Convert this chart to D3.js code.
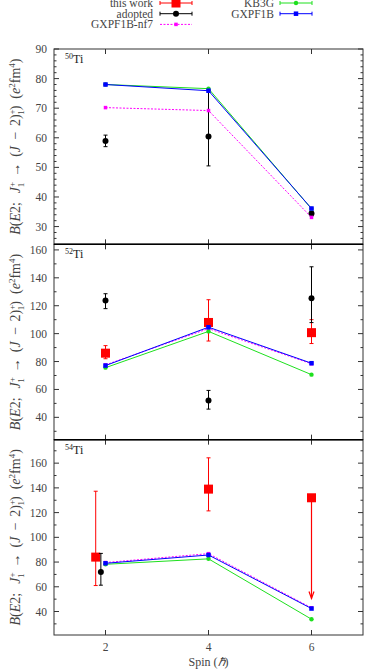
<!DOCTYPE html>
<html>
<head>
<meta charset="utf-8">
<script src="https://cdn.jsdelivr.net/npm/d3@7"></script>
<style>
  body { margin: 0; background: #fff; }
  svg { display: block; font-family: "Liberation Serif", serif; }
</style>
</head>
<body>
<div class="container"></div>
<script>
// values, one entry per panel (50Ti, 52Ti, 54Ti)
const spins = [2, 4, 6];
const nuclei = ["50", "52", "54"];
// [spin, value, low, high]
const thisWork = [
  [],
  [[2, 86, 82, 91.4], [4, 108, 94.7, 124.3], [6, 100.7, 92.9, 110]],
  [[1.81, 84, 61, 137.3], [4, 139, 121.4, 164.3]]
];
// upper limits: [spin, value, arrow end]
const thisWorkLimit = [[], [], [[6, 132, 50.5]]];
const adopted = [
  [[2, 58.9, 57, 60.9], [4, 60.4, 50.5, 76], [6, 34.4, 33.6, 35.2]],
  [[2, 123.8, 117.9, 128.6], [4, 52.1, 45.9, 59.3], [6, 125.4, 107.9, 147.9]],
  [[1.91, 72, 61.3, 87]]
];
const kb3g = [[78, 76.6, 36], [75.6, 101.6, 70.6], [78.2, 82.6, 33.8]];
const gxpf1b = [[78, 75.9, 36.1], [77.1, 104.6, 78.8], [79, 85.7, 42.4]];
const nf7 = [[70.2, 69.2, 33.1], [77.6, 103.6, 78.4], [79.6, 86.8, 43]];

const yDomains = [[24, 90], [24, 164], [21, 179]];
const yTicks = [d3.range(30, 91, 10), d3.range(40, 161, 20), d3.range(40, 161, 20)];
const yMinor = [d3.range(26, 90, 2), d3.range(30, 164, 10), d3.range(30, 179, 10)];

const W = 369, H = 672;
const left = 54, right = 363, top0 = 49, bottom0 = 635;
const ph = (bottom0 - top0) / 3;

const col = { red: "#ff0000", black: "#000", green: "#1ee01e", blue: "#0000ff", mag: "#ff00ff" };

const svg = d3.select(".container").append("svg")
  .attr("width", W).attr("height", H);

const x = d3.scaleLinear().domain([1, 7]).range([left, right]);

function square(g, cx, cy, s, fill) {
  g.append("rect").attr("x", cx - s / 2).attr("y", cy - s / 2)
    .attr("width", s).attr("height", s).attr("fill", fill);
}
function dot(g, cx, cy, r, fill) {
  g.append("circle").attr("cx", cx).attr("cy", cy).attr("r", r).attr("fill", fill);
}
function errBar(g, cx, y1, y2, c) {
  g.append("line").attr("x1", cx).attr("x2", cx).attr("y1", y1).attr("y2", y2)
    .attr("stroke", c).attr("stroke-width", 1);
  [y1, y2].forEach(yy => g.append("line").attr("x1", cx - 2).attr("x2", cx + 2)
    .attr("y1", yy).attr("y2", yy).attr("stroke", c).attr("stroke-width", 1));
}

nuclei.forEach((nuc, p) => {
  const t = top0 + p * ph, b = t + ph;
  const y = d3.scaleLinear().domain(yDomains[p]).range([b, t]);
  const g = svg.append("g");

  // ticks (inward, mirrored)
  const tk = g.append("g").attr("stroke", "#333").attr("stroke-width", 1);
  yTicks[p].forEach(v => {
    tk.append("line").attr("x1", left).attr("x2", left + 5).attr("y1", y(v)).attr("y2", y(v));
    tk.append("line").attr("x1", right).attr("x2", right - 5).attr("y1", y(v)).attr("y2", y(v));
  });
  yMinor[p].filter(v => !yTicks[p].includes(v)).forEach(v => {
    tk.append("line").attr("x1", left).attr("x2", left + 2.5).attr("y1", y(v)).attr("y2", y(v));
    tk.append("line").attr("x1", right).attr("x2", right - 2.5).attr("y1", y(v)).attr("y2", y(v));
  });
  spins.forEach(s => {
    tk.append("line").attr("x1", x(s)).attr("x2", x(s)).attr("y1", t).attr("y2", t + 5);
    tk.append("line").attr("x1", x(s)).attr("x2", x(s)).attr("y1", b).attr("y2", b - 5);
  });

  g.append("g").selectAll("text").data(yTicks[p]).join("text")
    .attr("x", left - 7).attr("y", d => y(d) + 4)
    .attr("text-anchor", "end").attr("font-size", 11.5).attr("fill", "#444")
    .text(d => d);

  // isotope label
  const iso = g.append("text").attr("x", 65).attr("y", t + 14).attr("font-size", 12).attr("fill", "#222");
  iso.append("tspan").attr("font-size", 8).attr("dy", -4).text(nuc);
  iso.append("tspan").attr("dy", 4).text("Ti");

  // y label
  const yl = g.append("text")
    .attr("transform", `translate(20,${(t + b) / 2}) rotate(-90)`)
    .attr("text-anchor", "middle").attr("font-size", 14).attr("fill", "#444");
  yl.append("tspan").attr("font-style", "italic").text("B");
  yl.append("tspan").text("(");
  yl.append("tspan").attr("font-style", "italic").text("E");
  yl.append("tspan").text("2;");
  yl.append("tspan").attr("font-style", "italic").attr("dx", 9).text("J");
  yl.append("tspan").attr("font-size", 9).attr("dy", -5.5).text("+");
  yl.append("tspan").attr("font-size", 9).attr("dx", -5.5).attr("dy", 9.5).text("1");
  yl.append("tspan").attr("dy", -4).attr("dx", 6).text("→");
  yl.append("tspan").attr("dx", 6).text("(");
  yl.append("tspan").attr("font-style", "italic").text("J");
  yl.append("tspan").attr("dx", 3).text(" − ");
  yl.append("tspan").attr("dx", 2).text("2)");
  yl.append("tspan").attr("font-size", 9).attr("dy", -5.5).text("+");
  yl.append("tspan").attr("font-size", 9).attr("dx", -5.5).attr("dy", 9.5).text("1");
  yl.append("tspan").attr("dy", -4).text(")");
  yl.append("tspan").attr("dx", 7).text("(");
  yl.append("tspan").attr("font-style", "italic").text("e");
  yl.append("tspan").attr("font-size", 9).attr("dy", -5.5).text("2");
  yl.append("tspan").attr("dy", 5.5).text("fm");
  yl.append("tspan").attr("font-size", 9).attr("dy", -5.5).text("4");
  yl.append("tspan").attr("dy", 5.5).text(")");

  const marks = g.append("g");
  // this work
  thisWork[p].forEach(d => {
    errBar(marks, x(d[0]), y(d[2]), y(d[3]), col.red);
    square(marks, x(d[0]), y(d[1]), 9, col.red);
  });
  thisWorkLimit[p].forEach(d => {
    const cx = x(d[0]), y1 = y(d[1]), y2 = y(d[2]);
    marks.append("line").attr("x1", cx).attr("x2", cx).attr("y1", y1).attr("y2", y2)
      .attr("stroke", col.red).attr("stroke-width", 1.2);
    marks.append("path").attr("d", `M${cx - 2.5},${y2 - 7}L${cx},${y2}L${cx + 2.5},${y2 - 7}`)
      .attr("fill", "none").attr("stroke", col.red).attr("stroke-width", 1.2);
    square(marks, cx, y1, 9, col.red);
  });
  // adopted
  adopted[p].forEach(d => {
    errBar(marks, x(d[0]), y(d[2]), y(d[3]), col.black);
    dot(marks, x(d[0]), y(d[1]), 3, col.black);
  });

  const line = d3.line().x((d, i) => x(spins[i])).y(d => y(d));
  // GXPF1B-nf7
  marks.append("path").attr("d", line(nf7[p])).attr("fill", "none")
    .attr("stroke", col.mag).attr("stroke-width", 1).attr("stroke-dasharray", "2,1.5");
  nf7[p].forEach((v, i) => square(marks, x(spins[i]), y(v), 3.5, col.mag));
  // KB3G
  marks.append("path").attr("d", line(kb3g[p])).attr("fill", "none")
    .attr("stroke", col.green).attr("stroke-width", 1);
  kb3g[p].forEach((v, i) => dot(marks, x(spins[i]), y(v), 2.2, col.green));
  // GXPF1B
  marks.append("path").attr("d", line(gxpf1b[p])).attr("fill", "none")
    .attr("stroke", col.blue).attr("stroke-width", 1);
  gxpf1b[p].forEach((v, i) => square(marks, x(spins[i]), y(v), 4.5, col.blue));

  // frame
  g.append("rect").attr("x", left).attr("y", t).attr("width", right - left).attr("height", ph)
    .attr("fill", "none").attr("stroke", "#333").attr("stroke-width", 1);
});
// separators between panels
[1, 2].forEach(k => svg.append("line").attr("x1", left).attr("x2", right)
  .attr("y1", top0 + k * ph).attr("y2", top0 + k * ph)
  .attr("stroke", "#000").attr("stroke-width", 1.5));

// x axis labels
svg.append("g").selectAll("text").data(spins).join("text")
  .attr("x", d => x(d)).attr("y", 651).attr("text-anchor", "middle")
  .attr("font-size", 11.5).attr("fill", "#444").text(d => d);
const xl = svg.append("text").attr("x", x(4)).attr("y", 666).attr("text-anchor", "middle")
  .attr("font-size", 12).attr("fill", "#444");
xl.append("tspan").text("Spin (");
xl.append("tspan").attr("font-style", "italic").text("ℏ");
xl.append("tspan").text(")");

// legend
const legendNames = ["this work", "adopted", "GXPF1B-nf7", "KB3G", "GXPF1B"];
const lg = svg.append("g").attr("font-size", 11.5).attr("fill", "#444");
legendNames.forEach((name, i) => {
  const c = i < 3 ? 0 : 1, r = i < 3 ? i : i - 3;
  const tx = c === 0 ? 153 : 274, sx = c === 0 ? 160 : 280, ly = 3 + r * 10.7;
  lg.append("text").attr("x", tx).attr("y", ly + 4).attr("text-anchor", "end").text(name);
  const clr = [col.red, col.black, col.mag, col.green, col.blue][i];
  const s = lg.append("g");
  s.append("line").attr("x1", sx).attr("x2", sx + 32).attr("y1", ly).attr("y2", ly)
    .attr("stroke", clr).attr("stroke-width", 1)
    .attr("stroke-dasharray", i === 2 ? "2,1.5" : null);
  if (i !== 2) {
    [sx, sx + 32].forEach(xx => s.append("line").attr("x1", xx).attr("x2", xx)
      .attr("y1", ly - 2).attr("y2", ly + 2).attr("stroke", clr));
  }
  const mx = sx + 16;
  if (i === 0) square(s, mx, ly, 9, clr);
  else if (i === 1) dot(s, mx, ly, 3, clr);
  else if (i === 2) square(s, mx, ly, 3.5, clr);
  else if (i === 3) dot(s, mx, ly, 2.2, clr);
  else square(s, mx, ly, 4.5, clr);
});
</script>
</body>
</html>
